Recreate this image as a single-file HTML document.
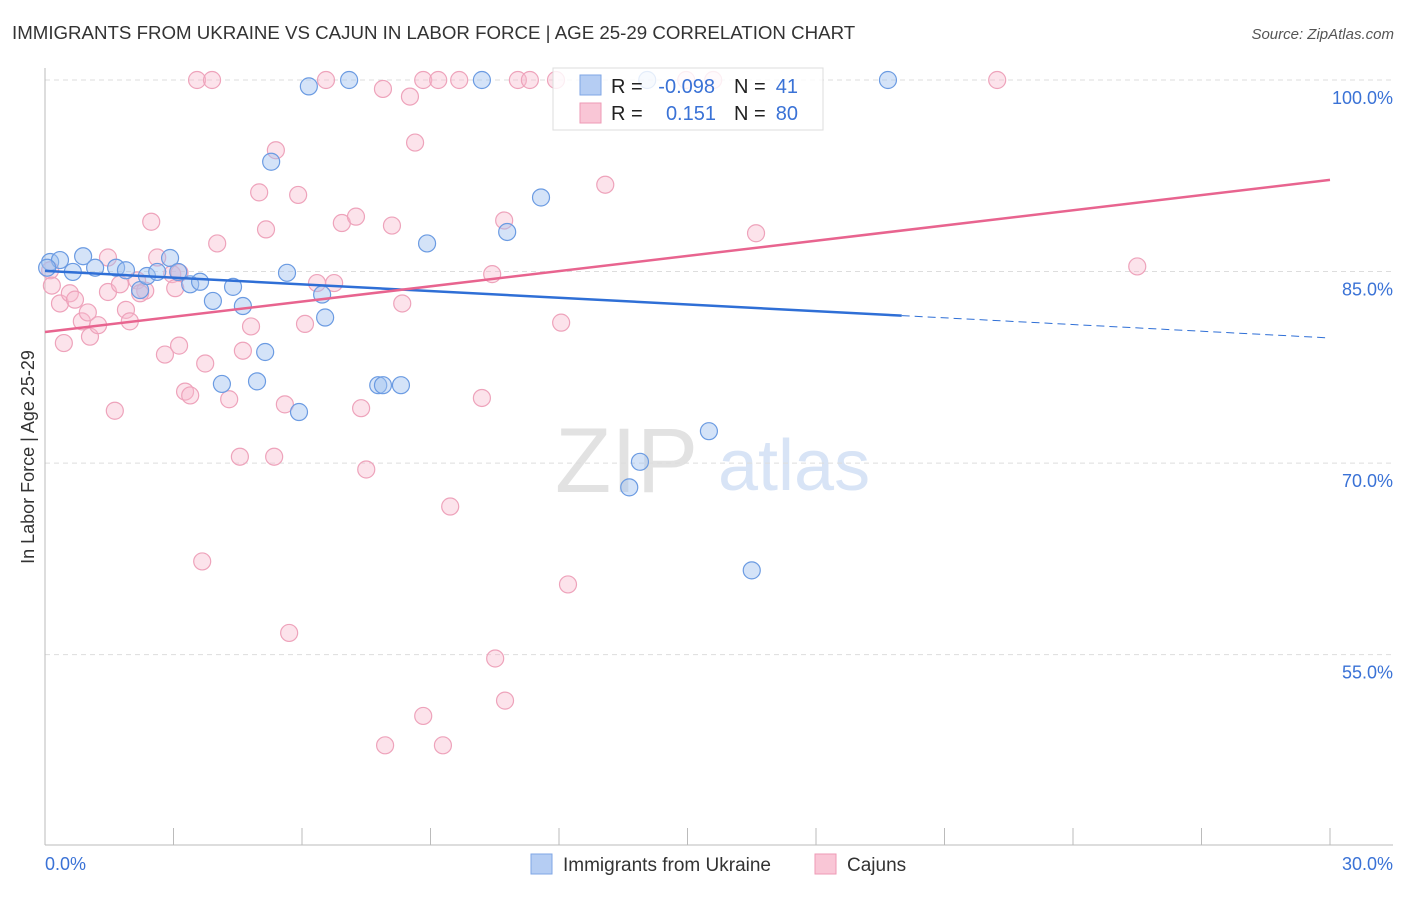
<!DOCTYPE html>
<html><head><meta charset="utf-8"><style>
body{margin:0;background:#fff;font-family:"Liberation Sans",sans-serif}
svg text{font-family:"Liberation Sans",sans-serif}
</style></head><body>
<svg id="c" width="1406" height="892" xmlns="http://www.w3.org/2000/svg">
<text x="12" y="39" font-size="18.7" fill="#333">IMMIGRANTS FROM UKRAINE VS CAJUN IN LABOR FORCE | AGE 25-29 CORRELATION CHART</text>
<text x="1394" y="39" font-size="15" fill="#555" text-anchor="end" font-style="italic">Source: ZipAtlas.com</text>
<text x="555" y="492" font-size="92" fill="#e2e2e2" font-family="Liberation Serif">ZIP</text>
<text x="718" y="490" font-size="72" fill="#d8e4f6">atlas</text>
<text transform="translate(34,457) rotate(-90)" font-size="18" fill="#333" text-anchor="middle">In Labor Force | Age 25-29</text>
<g id="grid"></g><g id="axes"></g><g id="pts"></g><g id="lines"></g>
<g>
<rect x="553" y="68" width="270" height="62" fill="rgba(255,255,255,0.82)" stroke="#ddd"/>
<rect x="580" y="75" width="21" height="20" fill="#b5cdf3" stroke="#7fa6e6"/>
<rect x="580" y="103" width="21" height="20" fill="#f9c6d6" stroke="#ee9ab5"/>
<text x="611" y="93" font-size="20" fill="#222">R =</text>
<text x="715" y="93" font-size="20" fill="#3a72d6" text-anchor="end">-0.098</text>
<text x="734" y="93" font-size="20" fill="#222">N =</text>
<text x="798" y="93" font-size="20" fill="#3a72d6" text-anchor="end">41</text>
<text x="611" y="120" font-size="20" fill="#222">R =</text>
<text x="716" y="120" font-size="20" fill="#3a72d6" text-anchor="end">0.151</text>
<text x="734" y="120" font-size="20" fill="#222">N =</text>
<text x="798" y="120" font-size="20" fill="#3a72d6" text-anchor="end">80</text>
</g>
<g>
<rect x="531" y="854" width="21" height="20" fill="#b5cdf3" stroke="#7fa6e6"/>
<text x="563" y="871" font-size="19" fill="#333">Immigrants from Ukraine</text>
<rect x="815" y="854" width="21" height="20" fill="#f9c6d6" stroke="#ee9ab5"/>
<text x="847" y="871" font-size="19" fill="#333">Cajuns</text>
</g>
</svg>
<script>
const yTicks=[100,85,70,55];
const yTickLabels=["100.0%","85.0%","70.0%","55.0%"];
const xTicks=[0,3,6,9,12,15,18,21,24,27,30];
const xEndLabels=["0.0%","30.0%"];
const blueX=[0.12,0.35,0.65,0.89,1.17,1.66,1.89,2.22,2.38,2.62,2.92,3.11,3.39,3.62,3.92,4.13,4.39,4.62,4.95,5.14,5.28,5.65,5.93,6.16,6.47,6.54,7.1,7.78,7.89,8.31,8.92,10.2,10.79,11.58,13.64,13.89,14.06,15.5,16.5,19.68,0.05];
const blueY=[85.75,85.9,84.97,86.2,85.3,85.3,85.1,83.55,84.65,84.97,86.06,84.97,84.0,84.2,82.7,76.2,83.8,82.3,76.4,78.7,93.6,84.9,74.0,99.5,83.2,81.4,100,76.1,76.1,76.1,87.2,100,88.1,90.8,68.1,70.1,100,72.5,61.6,100,85.3];
const pinkX=[0.12,0.16,0.35,0.44,0.58,0.7,0.86,1.0,1.05,1.24,1.47,1.63,1.75,1.89,1.98,2.15,2.34,2.48,2.62,2.8,2.97,3.04,3.13,3.27,3.39,3.55,3.67,3.74,3.9,4.02,4.3,4.55,4.62,4.81,5.0,5.16,5.35,5.39,5.6,5.7,5.91,6.07,6.35,6.56,6.75,6.93,7.26,7.38,7.5,7.89,7.94,8.1,8.34,8.52,8.64,8.83,8.83,9.18,9.29,9.46,9.67,10.2,10.44,10.51,10.72,10.74,11.04,11.32,11.93,12.05,12.21,13.08,14.97,15.6,16.6,22.23,25.5,1.47,2.22,3.14];
const pinkY=[85.1,83.9,82.5,79.4,83.3,82.8,81.1,81.8,79.9,80.8,83.4,74.1,84.0,82.0,81.1,84.3,83.5,88.9,86.1,78.5,84.8,83.7,79.2,75.6,75.3,100,62.3,77.8,100,87.2,75.0,70.5,78.8,80.7,91.2,88.3,70.5,94.5,74.6,56.7,91.0,80.9,84.1,100,84.1,88.8,89.3,74.3,69.5,99.3,47.9,88.6,82.5,98.7,95.1,50.2,100,100,47.9,66.6,100,75.1,84.8,54.7,89.0,51.4,100,100,100,81.0,60.5,91.8,100,100,88.0,100,85.4,86.1,83.3,84.9];
const blueTrend=[85.05,-0.175,20.0];
const pinkTrend=[80.27,0.397];
const X0=45,X1=1330,Y100=80,PPU=12.77;
const sx=v=>X0+(X1-X0)*v/30, sy=v=>Y100+(100-v)*PPU;
const NS="http://www.w3.org/2000/svg";
function mk(p,t,a){const e=document.createElementNS(NS,t);for(const k in a)e.setAttribute(k,a[k]);document.getElementById(p).appendChild(e);return e;}
yTicks.forEach((v,i)=>{
 const l=mk('grid','line',{x1:X0,x2:1393,y1:sy(v),y2:sy(v),stroke:'#ddd','stroke-dasharray':'5,4'});
 
 
 const t=mk('grid','text',{x:1393,y:sy(v)+24,'font-size':18,fill:'#3a72d6','text-anchor':'end'});
 t.textContent=yTickLabels[i];
 
 
});
let a=mk('axes','line',{x1:X0,x2:X0,y1:68,y2:845,stroke:'#bbb'});


a=mk('axes','line',{x1:X0,x2:1393,y1:845,y2:845,stroke:'#bbb'});


xTicks.forEach(v=>{const t=mk('axes','line',{x1:sx(v),x2:sx(v),y1:828,y2:845,stroke:'#bbb'});
 
 });
let t=mk('axes','text',{x:45,y:870,'font-size':18,fill:'#3a72d6'});t.textContent=xEndLabels[0];


t=mk('axes','text',{x:1393,y:870,'font-size':18,fill:'#3a72d6','text-anchor':'end'});t.textContent=xEndLabels[1];


pinkX.forEach((x,i)=>{const c=mk('pts','circle',{cx:sx(x),cy:sy(pinkY[i]),r:8.5,fill:'rgba(248,185,205,0.4)',stroke:'#eea3bb','stroke-width':1.2});
 
 });
blueX.forEach((x,i)=>{const c=mk('pts','circle',{cx:sx(x),cy:sy(blueY[i]),r:8.5,fill:'rgba(160,192,240,0.45)',stroke:'#6b9be2','stroke-width':1.2});
 
 });
const by=x=>blueTrend[0]+blueTrend[1]*x, py=x=>pinkTrend[0]+pinkTrend[1]*x;
let L=mk('lines','line',{x1:sx(0),y1:sy(by(0)),x2:sx(blueTrend[2]),y2:sy(by(blueTrend[2])),stroke:'#2f6fd6','stroke-width':2.5});


L=mk('lines','line',{x1:sx(blueTrend[2]),y1:sy(by(blueTrend[2])),x2:sx(30),y2:sy(by(30)),stroke:'#2f6fd6','stroke-width':1,'stroke-dasharray':'8,5'});


L=mk('lines','line',{x1:sx(0),y1:sy(py(0)),x2:sx(30),y2:sy(py(30)),stroke:'#e8648f','stroke-width':2.5});


</script>
</body></html>
